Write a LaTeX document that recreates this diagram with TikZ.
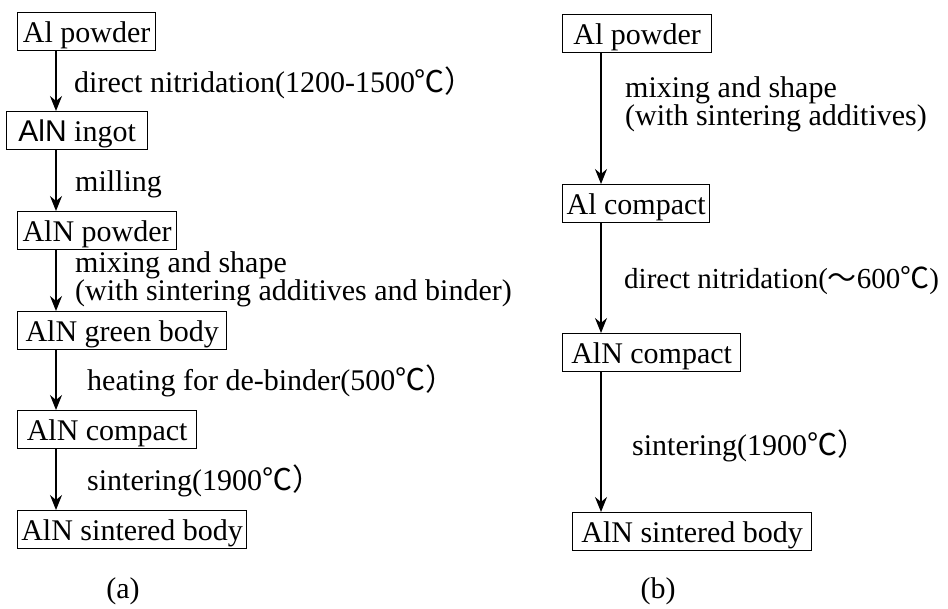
\documentclass[tikz,border=0pt]{standalone}
\usepackage{fontspec}
\setmainfont{Liberation Serif}
\newfontfamily\cjkf{Noto Sans CJK JP}
\newfontfamily\sansf{Liberation Sans}
\usetikzlibrary{arrows.meta}
\newcommand{\dgc}{{\cjkf ℃}}
\newcommand{\dgcp}{{\cjkf ℃）}}
\newcommand{\wtil}{{\cjkf ～}}
\tikzset{
  box/.style={draw, line width=1.3pt, inner sep=0pt, minimum height=38pt,
    text height=27pt, text depth=6pt, anchor=north west,
    font=\fontsize{30}{31}\selectfont},
  lbl/.style={inner sep=0pt, align=left, font=\fontsize{30}{19}\selectfont},
  arr/.style={line width=1.2pt, -{Stealth[length=15pt,width=12pt,inset=5pt]}},
}
\begin{document}
\begin{tikzpicture}[x=1pt,y=-1pt]
\fill[white] (0,0) rectangle (948,609);
\useasboundingbox (0,0) rectangle (948,609);
% column x positions
\coordinate (ca) at (56,0);
\coordinate (cb) at (601,0);
% (a) column
\node[box, minimum width=138pt] (a1) at (17,12) {Al powder};
\node[box, minimum width=141pt] (a2) at (6,111) {{\sansf AlN} ingot};
\node[box, minimum width=159pt] (a3) at (17,211) {AlN powder};
\node[box, minimum width=209pt] (a4) at (17,311) {AlN green body};
\node[box, minimum width=179pt] (a5) at (17,410) {AlN compact};
\node[box, minimum width=229pt] (a6) at (17,510) {AlN sintered body};
\draw[arr] (a1.south -| ca) -- (a2.north -| ca);
\draw[arr] (a2.south -| ca) -- (a3.north -| ca);
\draw[arr] (a3.south -| ca) -- (a4.north -| ca);
\draw[arr] (a4.south -| ca) -- (a5.north -| ca);
\draw[arr] (a5.south -| ca) -- (a6.north -| ca);
\node[lbl, anchor=base west] (la1) at (74,93) {direct nitridation(1200-1500\dgcp};
\node[lbl, anchor=base west] (la2) at (75,192) {milling};
\node[lbl, anchor=west] (la3) at (75,279) {mixing and shape\\(with sintering additives and binder)};
\node[lbl, anchor=base west] (la4) at (87,391) {heating for de-binder(500\dgcp};
\node[lbl, anchor=base west] (la5) at (87,490) {sintering(1900\dgcp};
\node[lbl, anchor=base] (capa) at (123,598) {(a)};
% (b) column
\node[box, minimum width=149pt] (b1) at (562,14) {Al powder};
\node[box, minimum width=147pt] (b2) at (562,184) {Al compact};
\node[box, minimum width=178pt] (b3) at (562,333) {AlN compact};
\node[box, minimum width=239pt] (b4) at (572,512) {AlN sintered body};
\draw[arr] (b1.south -| cb) -- (b2.north -| cb);
\draw[arr] (b2.south -| cb) -- (b3.north -| cb);
\draw[arr] (b3.south -| cb) -- (b4.north -| cb);
\node[lbl, anchor=west] (lb1) at (625,104) {mixing and shape\\(with sintering additives)};
\node[lbl, anchor=base west, font=\fontsize{29}{19}\selectfont] (lb2) at (624,289) {direct nitridation(\wtil 600\dgc)};
\node[lbl, anchor=base west] (lb3) at (632,456) {sintering(1900\dgcp};
\node[lbl, anchor=base] (capb) at (658,598) {(b)};
\end{tikzpicture}
\end{document}
